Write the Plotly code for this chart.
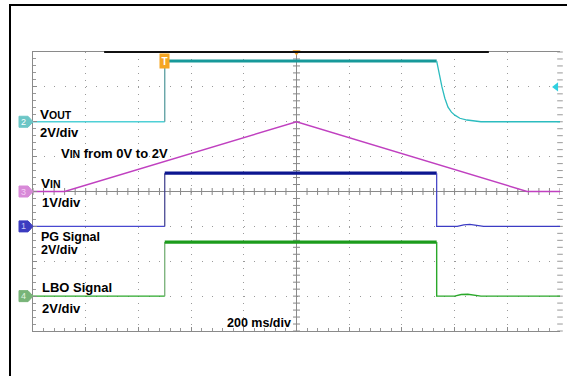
import plotly.graph_objects as go

# ---------------- data (time in ms, values in volts) ----------------
vout_low_t = [-1000, -500]
vout_low_v = [0, 0]
vout_edge_t = [-500, -500]
vout_edge_v = [0, 3.48]
vout_high_t = [-500, 532]
vout_high_v = [3.48, 3.48]
vout_fall_t = [532, 540, 552, 563, 575, 588, 601, 620, 647, 700, 1000]
vout_fall_v = [3.48, 2.85, 2.0, 1.35, 0.84, 0.55, 0.38, 0.2, 0.1, 0, 0]

vin_t = [-1000, -880, 0, 875, 1000]
vin_v = [0, 0, 2.0, 0, 0]

pg_low_t = [-1000, -500]
pg_low_v = [0, 0]
pg_edge_t = [-500, -500]
pg_edge_v = [0, 3.05]
pg_high_t = [-500, 532]
pg_high_v = [3.05, 3.05]
pg_fall_t = [532, 532, 610, 635, 658, 685, 710, 1000]
pg_fall_v = [3.05, 0, 0, 0.09, 0.11, 0.05, 0, 0]

lbo_low_t = [-1000, -500]
lbo_low_v = [0, 0]
lbo_edge_t = [-500, -500]
lbo_edge_v = [0, 3.1]
lbo_high_t = [-500, 532]
lbo_high_v = [3.1, 3.1]
lbo_fall_t = [532, 532, 600, 625, 650, 675, 700, 1000]
lbo_fall_v = [3.1, 0, 0, 0.09, 0.11, 0.05, 0, 0]

trigger_time = -500
trigger_level = 2.0

# ---------------- figure ----------------
W, H = 567, 376
ML, MR, MT, MB = 33, 7, 52, 45
PW, PH = W - ML - MR, H - MT - MB

FONT = "Liberation Sans, Arial, sans-serif"
GRID = "#9a9a9a"

fig = go.Figure()

def line(t, v, axis, color, width):
    fig.add_trace(go.Scatter(x=t, y=v, yaxis=axis, mode="lines",
                             line=dict(color=color, width=width),
                             hoverinfo="skip", showlegend=False))

# crosshair minor ticks (decoration)
tx = [-1000 + 40 * i for i in range(51)]
fig.add_trace(go.Scatter(x=tx, y=[0] * len(tx), mode="markers",
                         marker=dict(symbol="line-ns", size=5,
                                     line=dict(color="#888", width=1)),
                         hoverinfo="skip", showlegend=False))
ty = [-4 + 0.2 * i for i in range(41)]
fig.add_trace(go.Scatter(x=[0] * len(ty), y=ty, mode="markers",
                         marker=dict(symbol="line-ew", size=5,
                                     line=dict(color="#888", width=1)),
                         hoverinfo="skip", showlegend=False))
# right edge ticks
fig.add_trace(go.Scatter(x=[1000] * len(ty), y=ty, mode="markers",
                         marker=dict(symbol="line-ew", size=4,
                                     line=dict(color="#999", width=1)),
                         hoverinfo="skip", showlegend=False, cliponaxis=False))

# VIN (1 V/div, ch3)
line(vin_t, vin_v, "y3", "#c040c0", 1.4)

# VOUT (2 V/div, ch2)
line(vout_low_t, vout_low_v, "y2", "#4fd0d6", 1.3)
line(vout_edge_t, vout_edge_v, "y2", "#5a9ea0", 1.3)
line(vout_high_t, vout_high_v, "y2", "#17999a", 3)
line(vout_fall_t, vout_fall_v, "y2", "#2cbcbf", 1.3)

# PG (2 V/div, ch1)
line(pg_low_t, pg_low_v, "y4", "#4848d0", 1.1)
line(pg_edge_t, pg_edge_v, "y4", "#3a3a8a", 1.2)
line(pg_high_t, pg_high_v, "y4", "#0c1690", 3.2)
line(pg_fall_t, pg_fall_v, "y4", "#3c3cc4", 1.2)

# LBO (2 V/div, ch4)
line(lbo_low_t, lbo_low_v, "y5", "#2aa82a", 1.4)
line(lbo_edge_t, lbo_edge_v, "y5", "#6aa86a", 1.2)
line(lbo_high_t, lbo_high_v, "y5", "#1c9c1c", 3.2)
line(lbo_fall_t, lbo_fall_v, "y5", "#2aa82a", 1.4)

# trigger level arrow (right side, on VOUT)
fig.add_trace(go.Scatter(x=[985], y=[trigger_level], yaxis="y2", mode="markers",
                         marker=dict(symbol="triangle-left", size=8, color="#30d0e0"),
                         cliponaxis=False, hoverinfo="skip", showlegend=False))
# trigger position marker (top)
fig.add_trace(go.Scatter(x=[0], y=[4], mode="markers",
                         marker=dict(symbol="triangle-down", size=7, color="#f0a020"),
                         cliponaxis=False, hoverinfo="skip", showlegend=False))
fig.add_trace(go.Scatter(x=[-225], y=[4], mode="markers",
                         marker=dict(symbol="line-ew", size=5,
                                     line=dict(color="#f0c060", width=2)),
                         cliponaxis=False, hoverinfo="skip", showlegend=False))
# trigger "T"
fig.add_annotation(x=trigger_time, y=vout_high_v[0], yref="y2", xref="x",
                   text="<b>T</b>", showarrow=False,
                   font=dict(size=10, color="white", family=FONT),
                   bgcolor="#f5a623", borderpad=1.5, xanchor="center", yanchor="middle")

# shapes: outer frame, record bar
shapes = [
    dict(type="line", xref="paper", yref="paper",
         x0=(9 - ML) / PW, x1=(567 - ML) / PW, y0=(H - MB - 5) / PH, y1=(H - MB - 5) / PH,
         line=dict(color="black", width=2)),
    dict(type="line", xref="paper", yref="paper",
         x0=(10 - ML) / PW, x1=(10 - ML) / PW, y0=(H - MB - 4) / PH, y1=-MB / PH - 0.01,
         line=dict(color="black", width=2)),
    dict(type="line", xref="x", yref="paper", x0=-730, x1=730, y0=1, y1=1,
         line=dict(color="#111", width=2.2)),
]

# channel markers on the left (pentagon flags anchored at each channel's 0 V)
chans = [("2", "y2", "#6cc6c6", "white"), ("3", "y3", "#d88ad8", "#f4d0f4"),
         ("1", "y4", "#3c3cc0", "#c8c8f4"), ("4", "y5", "#78b478", "#e0f4e0")]
for num, ax, col, tcol in chans:
    shapes.append(dict(type="path", xref="paper", yref=ax,
                       xsizemode="pixel", ysizemode="pixel",
                       xanchor=0, yanchor=0,
                       path="M -14,-5.5 L -5,-5.5 L 0,0 L -5,5.5 L -14,5.5 Z",
                       fillcolor=col, line=dict(color=col, width=1)))
    fig.add_annotation(x=-10 / PW, y=0, xref="paper", yref=ax,
                       text=num, showarrow=False, xanchor="center", yanchor="middle",
                       font=dict(size=9, color=tcol, family=FONT))
fig.update_layout(shapes=shapes)

def tx_px(px):
    return (px - 296.5) / 52.7 * 200

def ty_px(py):
    return (191.5 - py) / 34.9

SUB = "<span style='font-size:10.5px'>{}</span>"
labels = [
    ("V" + SUB.format("OUT"), 38, 114, 13.5),
    ("2V/div", 38, 132, 13),
    ("V" + SUB.format("IN") + " from 0V to 2V", 59, 153, 13),
    ("V" + SUB.format("IN"), 39, 183, 13.5),
    ("1V/div", 40, 203, 13),
    ("PG Signal", 39, 237, 12.5),
    ("2V/div", 39, 250, 12.5),
    ("LBO Signal", 40, 288, 13),
    ("2V/div", 40, 309, 13),
    ("200 ms/div", 225, 323, 12.5),
]
for txt, px, py, sz in labels:
    fig.add_annotation(x=tx_px(px), y=ty_px(py), xref="x", yref="y",
                       text="<b>" + txt + "</b>", showarrow=False,
                       xanchor="left", yanchor="middle",
                       font=dict(size=sz, color="black", family=FONT))

ax_common = dict(visible=False, fixedrange=True)
fig.update_layout(
    width=W, height=H,
    margin=dict(l=ML, r=MR, t=MT, b=MB, pad=0),
    paper_bgcolor="white", plot_bgcolor="white",
    showlegend=False,
    xaxis=dict(range=[-1000, 1000], dtick=200, tick0=-1000,
               showgrid=True, gridcolor=GRID, gridwidth=1, griddash="1px,5.98px",
               zeroline=True, zerolinecolor="#8a8a8a", zerolinewidth=1,
               showline=True, linecolor="#8a8a8a", linewidth=1.2, mirror=True,
               ticks="inside", ticklen=4, tickcolor="#8a8a8a",
               minor=dict(dtick=40, ticks="inside", ticklen=3, tickcolor="#999"),
               showticklabels=False, fixedrange=True),
    yaxis=dict(range=[-4, 4], dtick=1, tick0=-4,
               showgrid=True, gridcolor=GRID, gridwidth=1, griddash="1px,9.54px",
               zeroline=True, zerolinecolor="#8a8a8a", zerolinewidth=1,
               showline=True, linecolor="#8a8a8a", linewidth=1.2, mirror=False,
               ticks="inside", ticklen=4, tickcolor="#8a8a8a",
               minor=dict(dtick=0.2, ticks="inside", ticklen=3, tickcolor="#999"),
               showticklabels=False, fixedrange=True),
    yaxis2=dict(range=[-12, 4], overlaying="y", **ax_common),
    yaxis3=dict(range=[-4, 4], overlaying="y", **ax_common),
    yaxis4=dict(range=[-6, 10], overlaying="y", **ax_common),
    yaxis5=dict(range=[-2, 14], overlaying="y", **ax_common),
)

fig.write_html("out.html", config={"displayModeBar": False},
               post_script="document.body.style.margin='0';document.body.style.padding='0';")
